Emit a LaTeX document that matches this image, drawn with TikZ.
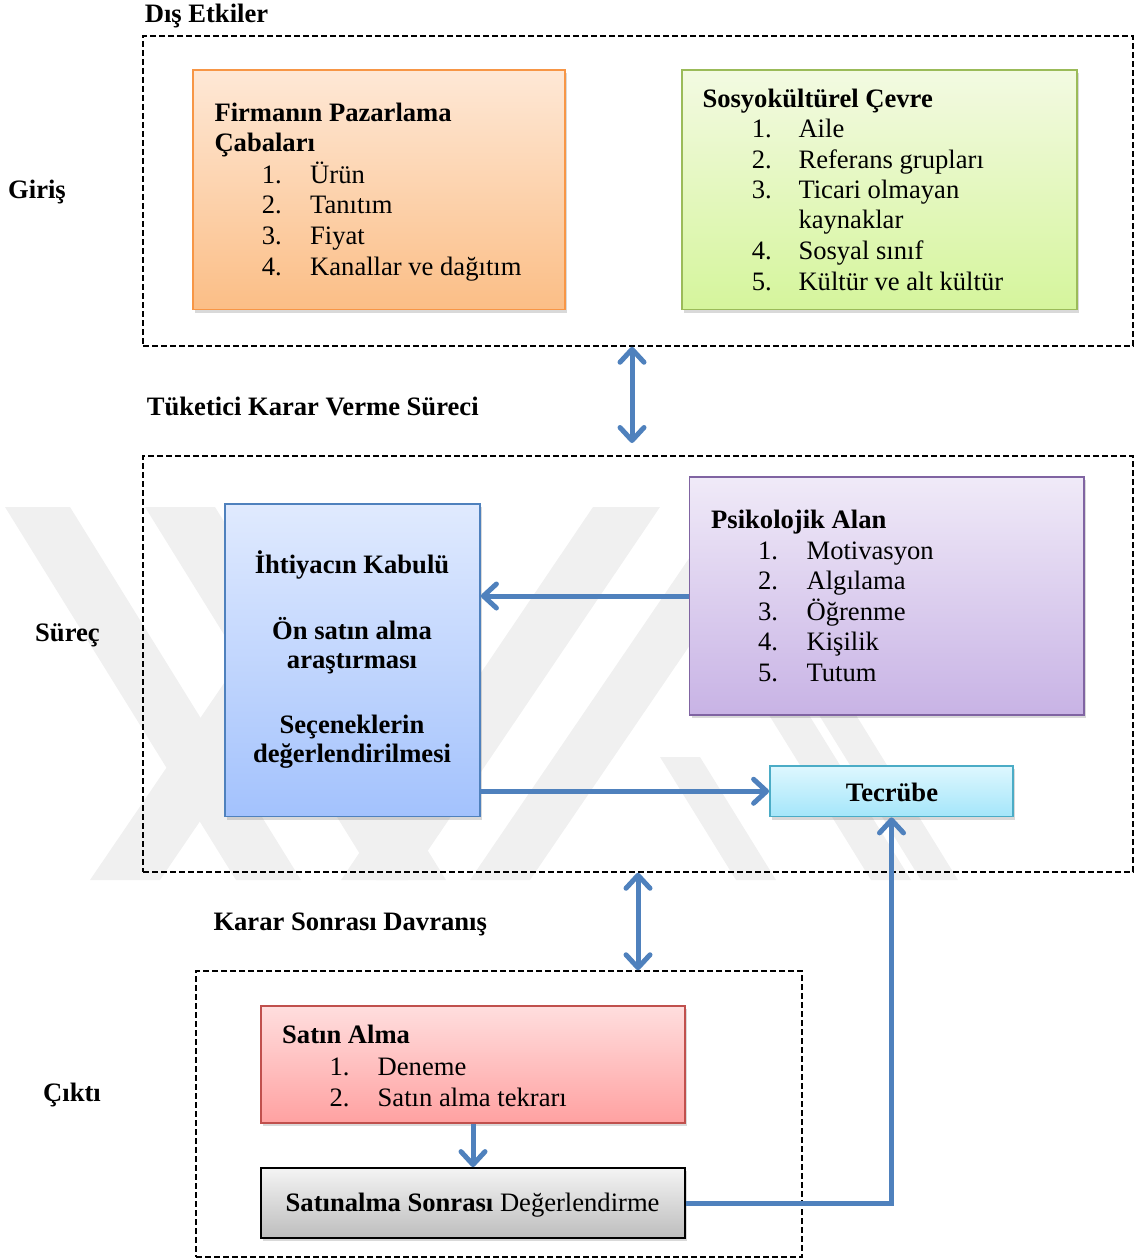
\documentclass[tikz,border=0pt]{standalone}
\usepackage{fontspec}
\setmainfont{Liberation Serif}
\usetikzlibrary{arrows.meta,shadows}
\definecolor{arrowblue}{HTML}{4F81BD}
\definecolor{orB}{HTML}{F79646}\definecolor{orT}{HTML}{FEE8D6}\definecolor{orD}{HTML}{FBBE86}
\definecolor{grB}{HTML}{9BBB59}\definecolor{grT}{HTML}{F3FAE2}\definecolor{grD}{HTML}{D5F59C}
\definecolor{puB}{HTML}{8064A2}\definecolor{puT}{HTML}{F0EAF8}\definecolor{puD}{HTML}{C8B3E5}
\definecolor{blB}{HTML}{4F81BD}\definecolor{blT}{HTML}{E0EAFE}\definecolor{blD}{HTML}{A3C2FD}
\definecolor{cyB}{HTML}{4BACC6}\definecolor{cyT}{HTML}{DEF7FE}\definecolor{cyD}{HTML}{A4E6FA}
\definecolor{reB}{HTML}{C0504D}\definecolor{reT}{HTML}{FFDEDE}\definecolor{reD}{HTML}{FFA1A1}
\definecolor{gyB}{HTML}{000000}\definecolor{gyT}{HTML}{F4F4F4}\definecolor{gyD}{HTML}{BDBDBD}
\definecolor{wmark}{HTML}{F0F0F0}
\tikzset{
  cbox/.style args={#1/#2/#3}{draw=#1, line width=1.8pt, top color=#2, bottom color=#3,
    drop shadow={shadow xshift=2pt, shadow yshift=-3pt, opacity=0.25, fill=black!60}},
  dashbox/.style={draw=black, line width=1.5pt, dash pattern=on 6pt off 3pt},
  txt/.style={anchor=base west},
  ctxt/.style={anchor=base},
  arr/.style={draw=arrowblue, line width=5pt, -{Straight Barb[length=13pt,width=24pt,round]}},
  dbl/.style={draw=arrowblue, line width=5pt, {Straight Barb[length=13pt,width=24pt,round]}-{Straight Barb[length=13pt,width=24pt,round]}}
}
\begin{document}
\begin{tikzpicture}[x=1pt,y=-1pt, every node/.style={font=\fontsize{26.6}{31}\selectfont, inner sep=0pt}]
\useasboundingbox (0,0) rectangle (1137,1260);
% watermark
\begin{scope}
\clip (0,505) rectangle (1000,882);
\fill[wmark] (5,507) -- (70,507) -- (301,880) -- (236,880) -- cycle;
\fill[wmark] (145,507) -- (215,507) -- (446,880) -- (376,880) -- cycle;
\fill[wmark] (90,880) -- (160,880) -- (414,507) -- (344,507) -- cycle;
\fill[wmark] (593,507) -- (660,507) -- (408,880) -- (341,880) -- cycle;
\fill[wmark] (470,880) -- (530,880) -- (784,507) -- (724,507) -- cycle;
\fill[wmark] (660,757) -- (700,757) -- (776,880) -- (736,880) -- cycle;
\fill[wmark] (769,715) -- (809,715) -- (911,880) -- (871,880) -- cycle;
\fill[wmark] (819,715) -- (856,715) -- (958,880) -- (921,880) -- cycle;
\end{scope}
% outer dashed boxes
\node[dashbox, minimum width=990pt, minimum height=310pt] (out1) at (638,191) {};
\node[dashbox, minimum width=990pt, minimum height=416pt] (out2) at (638,664) {};
\node[dashbox, minimum width=606pt, minimum height=286pt] (out3) at (499,1114) {};
% side labels
\node[txt] (lDis) at (144.6,22.7) {\textbf{Dış Etkiler}};
\node[txt] (lGiris) at (8,199) {\textbf{Giriş}};
\node[txt] (lTuk) at (146.7,415) {\textbf{Tüketici Karar Verme Süreci}};
\node[txt] (lSurec) at (35,641.7) {\textbf{Süreç}};
\node[txt] (lKarar) at (213.3,930.7) {\textbf{Karar Sonrası Davranış}};
\node[txt] (lCikti) at (43,1101) {\textbf{Çıktı}};
% boxes
\node[cbox=orB/orT/orD, minimum width=372pt, minimum height=239.5pt] (orange) at (379,189.75) {};
\node[cbox=grB/grT/grD, minimum width=395pt, minimum height=239.5pt] (green) at (879.2,189.75) {};
\node[cbox=blB/blT/blD, minimum width=255pt, minimum height=312.5pt] (blue) at (352.5,660.25) {};
\node[cbox=puB/puT/puD, minimum width=394.5pt, minimum height=238pt] (purple) at (886.75,596) {};
\node[cbox=cyB/cyT/cyD, minimum width=243pt, minimum height=50.5pt] (tec) at (891.5,791.25) {};
\node[cbox=reB/reT/reD, minimum width=424pt, minimum height=117pt] (red) at (473,1064.5) {};
\node[cbox=gyB/gyT/gyD, minimum width=424pt, minimum height=70pt] (grey) at (473,1203) {};
% orange text
\node[txt] (o0) at (214.3,121.7) {\textbf{Firmanın Pazarlama}};
\node[txt] (o0b) at (214.3,151.7) {\textbf{Çabaları}};
\node[txt] (on1) at (261.7,183.3) {1.}; \node[txt] (o1) at (310,183.3) {Ürün};
\node[txt] (on2) at (261.7,214) {2.}; \node[txt] (o2) at (310,214) {Tanıtım};
\node[txt] (on3) at (261.7,244.7) {3.}; \node[txt] (o3) at (310,244.7) {Fiyat};
\node[txt] (on4) at (261.7,275.4) {4.}; \node[txt] (o4) at (310,275.4) {Kanallar ve dağıtım};
% green text
\node[txt] (g0) at (702.3,107.7) {\textbf{Sosyokültürel Çevre}};
\node[txt] (gn1) at (751.7,137.3) {1.}; \node[txt] (g1) at (798.3,137.3) {Aile};
\node[txt] (gn2) at (751.7,168.3) {2.}; \node[txt] (g2) at (798.3,168.3) {Referans grupları};
\node[txt] (gn3) at (751.7,198.3) {3.}; \node[txt] (g3) at (798.3,198.3) {Ticari olmayan};
\node[txt] (g3b) at (798.3,228.8) {kaynaklar};
\node[txt] (gn4) at (751.7,259.3) {4.}; \node[txt] (g4) at (798.3,259.3) {Sosyal sınıf};
\node[txt] (gn5) at (751.7,290) {5.}; \node[txt] (g5) at (798.3,290) {Kültür ve alt kültür};
% blue text
\node[ctxt] (b1) at (352,573.3) {\textbf{İhtiyacın Kabulü}};
\node[ctxt] (b2) at (352,639) {\textbf{Ön satın alma}};
\node[ctxt] (b3) at (352,668.7) {\textbf{araştırması}};
\node[ctxt] (b4) at (352,733.3) {\textbf{Seçeneklerin}};
\node[ctxt] (b5) at (352,762.7) {\textbf{değerlendirilmesi}};
% purple text
\node[txt] (p0) at (711,528.3) {\textbf{Psikolojik Alan}};
\node[txt] (pn1) at (757.8,559.3) {1.}; \node[txt] (p1) at (806.4,559.3) {Motivasyon};
\node[txt] (pn2) at (757.8,589.8) {2.}; \node[txt] (p2) at (806.4,589.8) {Algılama};
\node[txt] (pn3) at (757.8,620.3) {3.}; \node[txt] (p3) at (806.4,620.3) {Öğrenme};
\node[txt] (pn4) at (757.8,650.8) {4.}; \node[txt] (p4) at (806.4,650.8) {Kişilik};
\node[txt] (pn5) at (757.8,681.5) {5.}; \node[txt] (p5) at (806.4,681.5) {Tutum};
% tecrube
\node[ctxt] (tt) at (892,801.7) {\textbf{Tecrübe}};
% red text
\node[txt] (r0) at (282,1043.3) {\textbf{Satın Alma}};
\node[txt] (rn1) at (329.3,1075) {1.}; \node[txt] (r1) at (377.5,1075) {Deneme};
\node[txt] (rn2) at (329.3,1106.7) {2.}; \node[txt] (r2) at (377.5,1106.7) {Satın alma tekrarı};
% grey text
\node[ctxt] (gt) at (472.6,1211.7) {\textbf{Satınalma Sonrası} Değerlendirme};
% connectors
\coordinate (a1b) at (632,443);
\draw[dbl] ([xshift=-6pt]out1.south) -- (a1b);
\draw[dbl] (out2.south) -- (out2.south |- out3.north);
\draw[arr] (purple.west) -- (purple.west -| blue.east);
\draw[arr] (tec.west -| blue.east) -- (tec.west);
\draw[arr] (red.south) -- (grey.north);
\draw[arr] (grey.east) -- (grey.east -| tec.south) -- (tec.south);
\end{tikzpicture}
\end{document}
